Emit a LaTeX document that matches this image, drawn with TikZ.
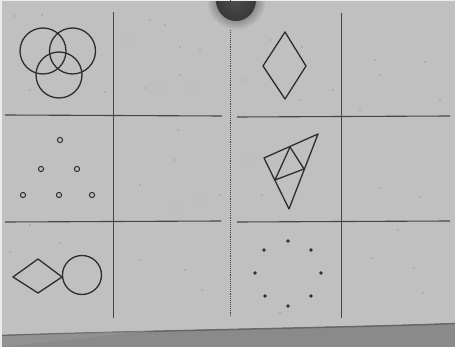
\documentclass[tikz,border=0pt]{standalone}
\usetikzlibrary{calc}
\definecolor{paper}{RGB}{192,192,192}
\definecolor{under}{RGB}{138,138,138}
\definecolor{ink}{RGB}{45,45,45}
\definecolor{gridink}{RGB}{70,70,70}
\tikzset{
  gridline/.style={draw=gridink, line width=0.9pt},
  figline/.style={draw=ink, line width=1.3pt, line join=round},
  ring/.style={draw=ink, line width=1pt},
  dotmark/.style={fill=ink},
}
\begin{document}
\begin{tikzpicture}[x=1pt,y=-1pt]
\useasboundingbox (0,0) rectangle (455,347);
% background below paper
\fill[under] (0,0) rectangle (455,347);
% paper
\fill[paper] (0,0) -- (455,0) -- (455,323) .. controls (350,327) and (150,330) .. (0,335) -- cycle;
% shadow at paper edge
\draw[black!70, line width=1.5pt, opacity=0.6] (455,323.5) .. controls (350,327.5) and (150,330.5) .. (0,335.5);
\fill[black!40, opacity=0.5] (0,336) .. controls (60,334) and (100,332) .. (150,331) -- (0,347) -- cycle;
% thin light frame
\draw[white!85!gray, line width=1.5pt] (0.75,347) -- (0.75,0.75) -- (455,0.75);
% grid
\draw[gridline] (113,12) -- (113,318);
\draw[gridline, densely dotted] (230,0) -- (230,317);
\draw[gridline] (341,13) -- (341,318);
\draw[gridline, line width=1.1pt] (5,115) -- (222,116);
\draw[gridline, line width=1.1pt] (237,117) -- (450,116);
\draw[gridline, line width=1.1pt] (5,222) -- (221,221);
\draw[gridline, line width=1.1pt] (237,222) -- (450,221);
% magnet
\begin{scope}
  \clip (0,1.5) rectangle (455,60);
  \shade[inner color=black!85, outer color=paper] (236,0) ellipse [x radius=30pt, y radius=30pt];
  \shade[inner color=black!70, outer color=black!78] (236,0) ellipse [x radius=20pt, y radius=21pt];
\end{scope}
% three circles
\draw[figline] (43,51) circle [radius=23pt];
\draw[figline] (72.5,51) circle [radius=23pt];
\draw[figline] (59,75) circle [radius=23pt];
% diamond top right
\coordinate (dt) at (285,32);
\coordinate (dl) at (263,66);
\coordinate (dr) at (306,66);
\coordinate (db) at (285,99);
\draw[figline] (dt) -- (dr) -- (db) -- (dl) -- cycle;
% rings triangle
\foreach \p in {(60,140),(41,169),(77,169),(23,195),(59,195),(92,195)}
  \draw[ring] \p circle [radius=2.6pt];
% triangle figure
\coordinate (tl) at (264,158);
\coordinate (tt) at (318,134);
\coordinate (tb) at (289,209);
\coordinate (p1) at (290,147);
\coordinate (p2) at (304,169);
\coordinate (p3) at (275,180);
\draw[figline] (tl) -- (tt) -- (tb) -- cycle;
\draw[figline] (p1) -- (p2) -- (p3) -- cycle;
% diamond + circle
\coordinate (ql) at (13,277);
\coordinate (qt) at (38,259);
\coordinate (qr) at (62,277);
\coordinate (qb) at (38,293);
\draw[figline] (ql) -- (qt) -- (qr) -- (qb) -- cycle;
\draw[figline] (82,275) circle [radius=19.5pt];
% octagon dots
\foreach \p in {(288,241),(264,250),(311,250),(255,273),(321,273),(265,296),(311,296),(288,306)}
  \fill[dotmark] \p circle [radius=1.9pt];
% specks
\foreach \p in {(15,16),(42,15),(150,20),(165,25),(180,47),(128,40),(200,50),(192,88),(160,88),(146,88),(180,75),(30,90),(270,40),(302,47),(245,80),(333,90),(375,60),(425,62),(380,75),(440,100),(360,110),(178,130),(175,160),(140,185),(200,200),(176,208),(380,188),(420,197),(398,230),(372,258),(414,268),(423,293),(280,313),(262,195),(248,160),(300,100),(220,195),(105,92),(60,243),(140,260),(185,270),(202,290),(10,252),(30,225)}
  \fill[black!55] \p circle [radius=0.6pt];
\end{tikzpicture}
\end{document}
